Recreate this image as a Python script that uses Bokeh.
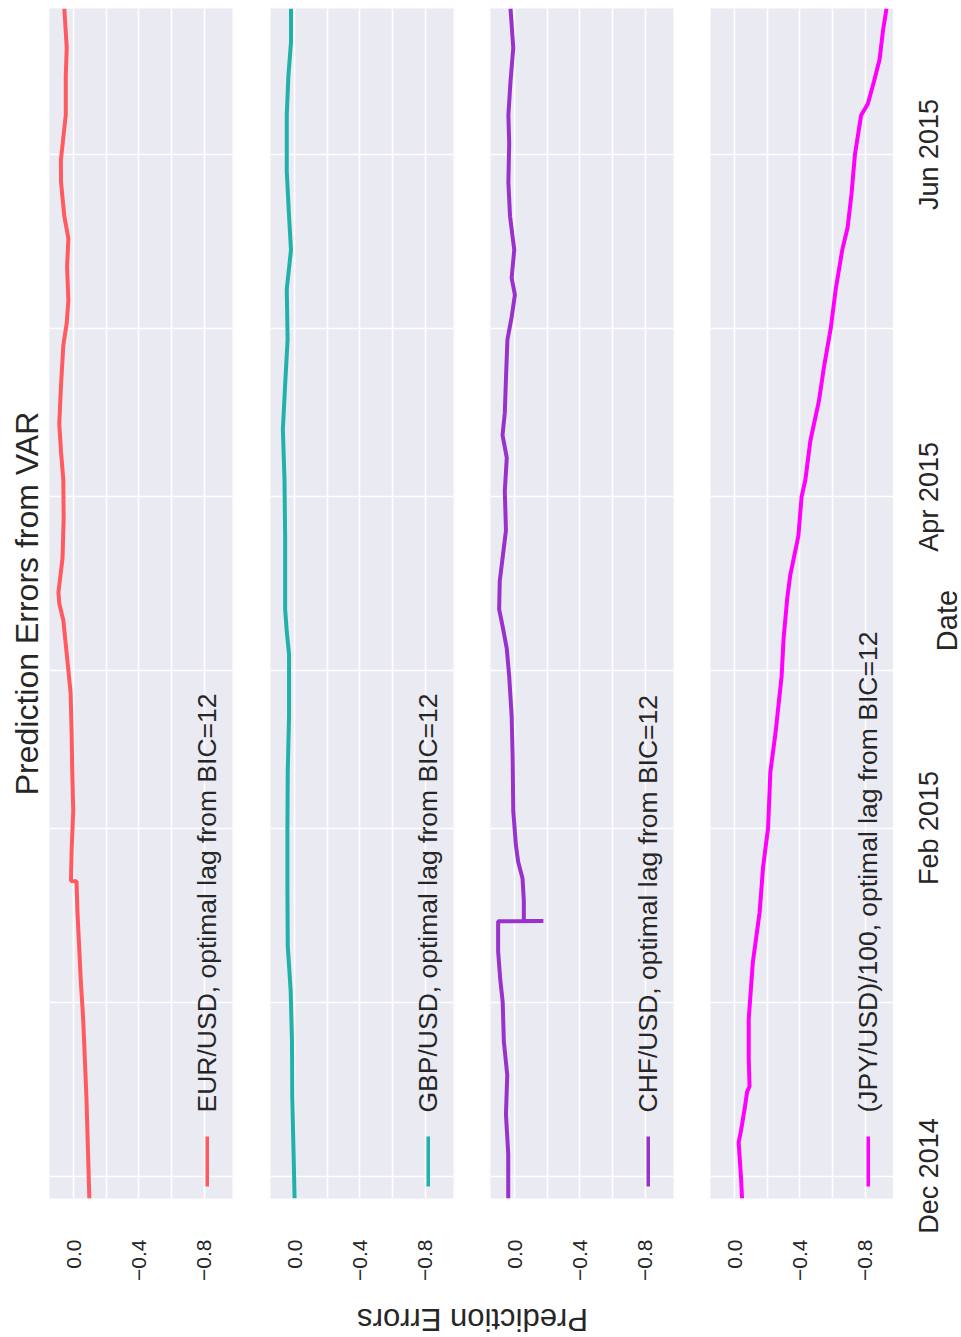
import math
import pandas as pd
from bokeh.plotting import figure
from bokeh.layouts import column, row
from bokeh.models import Range1d, FixedTicker, Title, Label, BoxAnnotation
from bokeh.embed import file_html
from bokeh.resources import INLINE

# ---------------- data ----------------
eur_dates = ["2014-11-27", "2014-12-05", "2014-12-15", "2014-12-22", "2014-12-29", "2015-01-05",
             "2015-01-11", "2015-01-17", "2015-01-22 12:00", "2015-01-22 14:00", "2015-01-28",
             "2015-02-04", "2015-02-11", "2015-02-18", "2015-02-25", "2015-03-04", "2015-03-10",
             "2015-03-13", "2015-03-15", "2015-03-21", "2015-03-28", "2015-04-04", "2015-04-09",
             "2015-04-14", "2015-04-21", "2015-04-28", "2015-05-02", "2015-05-06", "2015-05-12",
             "2015-05-17", "2015-05-21", "2015-05-27", "2015-05-31", "2015-06-04", "2015-06-08",
             "2015-06-15", "2015-06-20", "2015-06-27"]
eur_values = [-0.095, -0.087, -0.077, -0.067, -0.057, -0.042,
              -0.032, -0.022, -0.016, 0.018, 0.014,
              0.004, 0.010, 0.014, 0.020, 0.044, 0.065,
              0.090, 0.095, 0.070, 0.063, 0.065, 0.079,
              0.090, 0.079, 0.065, 0.044, 0.034, 0.042,
              0.034, 0.059, 0.079, 0.080, 0.065, 0.050,
              0.050, 0.044, 0.059]

gbp_dates = ["2014-11-27", "2014-12-05", "2014-12-15", "2014-12-25", "2015-01-03", "2015-01-11",
             "2015-01-21", "2015-02-01", "2015-02-11", "2015-02-21", "2015-03-04", "2015-03-08",
             "2015-03-12", "2015-03-18", "2015-03-25", "2015-04-04", "2015-04-13", "2015-04-21",
             "2015-04-29", "2015-05-08", "2015-05-15", "2015-05-21", "2015-05-29", "2015-06-08",
             "2015-06-15", "2015-06-21", "2015-06-27"]
gbp_values = [0.002, 0.008, 0.016, 0.018, 0.026, 0.044,
              0.046, 0.046, 0.044, 0.036, 0.036, 0.050,
              0.060, 0.060, 0.060, 0.064, 0.074, 0.060,
              0.045, 0.050, 0.024, 0.036, 0.050, 0.050,
              0.040, 0.024, 0.024]

chf_dates = ["2014-11-27", "2014-12-05", "2014-12-12", "2014-12-19", "2014-12-25", "2015-01-01",
             "2015-01-05", "2015-01-10", "2015-01-15 09:00", "2015-01-15 10:00", "2015-01-15 11:00",
             "2015-01-19", "2015-01-23", "2015-01-26", "2015-01-29", "2015-02-04", "2015-02-14",
             "2015-02-21", "2015-02-28", "2015-03-05", "2015-03-09", "2015-03-12", "2015-03-17",
             "2015-03-22", "2015-03-26", "2015-04-02", "2015-04-08", "2015-04-12", "2015-04-16",
             "2015-04-22", "2015-04-29", "2015-05-03", "2015-05-07", "2015-05-10", "2015-05-15",
             "2015-05-21", "2015-05-27", "2015-06-03", "2015-06-08", "2015-06-14", "2015-06-20",
             "2015-06-27"]
chf_values = [0.041, 0.041, 0.055, 0.047, 0.068, 0.075,
              0.090, 0.103, 0.103, -0.175, -0.055,
              -0.055, -0.047, -0.020, -0.006, 0.010, 0.014,
              0.020, 0.035, 0.050, 0.076, 0.097, 0.093,
              0.072, 0.055, 0.062, 0.050, 0.076, 0.062,
              0.055, 0.046, 0.020, 0.000, 0.020, 0.004,
              0.030, 0.040, 0.035, 0.040, 0.027, 0.010,
              0.027]

jpy_dates = ["2014-11-27", "2014-12-01", "2014-12-07", "2014-12-09", "2014-12-13", "2014-12-16",
             "2014-12-17", "2014-12-22", "2014-12-29", "2015-01-08", "2015-01-17", "2015-01-25",
             "2015-02-01", "2015-02-11", "2015-02-18", "2015-02-28", "2015-03-07", "2015-03-14",
             "2015-03-18", "2015-03-25", "2015-04-01", "2015-04-04", "2015-04-11", "2015-04-18",
             "2015-04-24", "2015-05-01", "2015-05-08", "2015-05-15", "2015-05-19", "2015-05-25",
             "2015-06-01", "2015-06-08", "2015-06-10", "2015-06-14", "2015-06-18", "2015-06-23",
             "2015-06-27"]
jpy_values = [-0.044, -0.037, -0.023, -0.037, -0.060, -0.075,
              -0.090, -0.085, -0.085, -0.110, -0.152, -0.173,
              -0.204, -0.218, -0.250, -0.287, -0.300, -0.322,
              -0.340, -0.390, -0.410, -0.433, -0.464, -0.516,
              -0.547, -0.589, -0.620, -0.660, -0.693, -0.717,
              -0.738, -0.776, -0.817, -0.855, -0.890, -0.910,
              -0.932]

series_names = ["EUR/USD, optimal lag from BIC=12",
                "GBP/USD, optimal lag from BIC=12",
                "CHF/USD, optimal lag from BIC=12",
                "(JPY/USD)/100, optimal lag from BIC=12"]
series_colors = ["#FF5A5F", "#20B2AA", "#9932CC", "#FF00FF"]

value_ticks = [0.0, -0.2, -0.4, -0.6, -0.8]
value_tick_labels = ["0.0", "", "\u22120.4", "", "\u22120.8"]
month_ticks = ["2014-12-01", "2015-01-01", "2015-02-01", "2015-03-01",
               "2015-04-01", "2015-05-01", "2015-06-01"]
month_tick_labels = ["Dec 2014", "", "Feb 2015", "", "Apr 2015", "", "Jun 2015"]

title_text = "Prediction Errors from VAR"
ylabel_text = "Prediction Errors"
xlabel_text = "Date"

# ---------------- styling / layout ----------------
FONT = "Liberation Sans"
TXT = "#262626"
BG = "#EAEAF2"

all_dates = [eur_dates, gbp_dates, chf_dates, jpy_dates]
all_values = [eur_values, gbp_values, chf_values, jpy_values]

start = pd.Timestamp("2014-11-27")
end = pd.Timestamp("2015-06-27")
month_ms = [int(pd.Timestamp(m).value // 10**6) for m in month_ticks]

FW = 183          # panel frame width (px)
FH = 1190         # panel frame height (px)
TOP = 8
BOTTOM = 92
LABEL_H = 47
STRIP_W = 68
borders = [(49, 19), (19, 18), (19, 18), (19, 0)]
shared_y = Range1d(start, end)
figs = []
for i in range(4):
    bl, br = borders[i]
    p = figure(width=bl + FW + br, height=TOP + FH + BOTTOM,
               x_range=Range1d(0.15, -0.975), y_range=shared_y,
               y_axis_type="datetime", y_axis_location=None,
               x_axis_location="below", title_location=None,
               output_backend="svg", toolbar_location=None,
               min_border_left=bl, min_border_right=br,
               min_border_top=TOP, min_border_bottom=BOTTOM,
               background_fill_color=BG, border_fill_color="white",
               outline_line_color=None)
    p.line(x=all_values[i], y=pd.to_datetime(all_dates[i], format="ISO8601"),
           line_color=series_colors[i], line_width=4)

    # value axis
    xa = p.xaxis[0]
    xa.ticker = FixedTicker(ticks=value_ticks)
    xa.major_label_overrides = dict(zip(value_ticks, value_tick_labels))
    xa.major_label_orientation = math.pi / 2
    xa.major_label_standoff = 35
    xa.major_label_text_font = FONT
    xa.major_label_text_font_size = "21px"
    xa.major_label_text_color = TXT
    xa.axis_line_color = None
    xa.major_tick_line_color = None
    xa.minor_tick_line_color = None

    p.xgrid.grid_line_color = "white"
    p.xgrid.grid_line_width = 1.6
    p.ygrid.ticker = FixedTicker(ticks=month_ms)
    p.ygrid.grid_line_color = "white"
    p.ygrid.grid_line_width = 1.6

    if i == 0:
        p.add_layout(Title(text=title_text, align="center", text_font=FONT,
                           text_font_size="32px", text_font_style="normal",
                           text_color=TXT), "left")

    # legend (rotated like the whole chart)
    p.add_layout(BoxAnnotation(left=156, right=159.5, bottom=12, top=62,
                               left_units="screen", right_units="screen",
                               bottom_units="screen", top_units="screen",
                               fill_color=series_colors[i], fill_alpha=1.0,
                               line_color=None))
    p.add_layout(Label(x=157.5, y=86, x_units="screen", y_units="screen",
                       text=series_names[i], angle=math.pi / 2,
                       text_align="left", text_baseline="middle",
                       text_font=FONT, text_font_size="26.5px", text_color=TXT))
    figs.append(p)

panels_w = sum(bl + FW + br for bl, br in borders)

# bottom strip with the (upside-down) value-axis title
pb = figure(width=panels_w, height=LABEL_H, x_range=Range1d(0, 1), y_range=Range1d(0, 1),
            x_axis_location=None, y_axis_location=None, title_location=None,
            output_backend="svg", toolbar_location=None, min_border=0,
            outline_line_color=None, background_fill_color="white",
            border_fill_color="white")
pb.grid.visible = False
pb.add_layout(Label(x=472 / panels_w, y=0.38, text=ylabel_text, angle=math.pi,
                    text_align="center", text_baseline="middle",
                    text_font=FONT, text_font_size="31px", text_color=TXT))

# full-height date-axis strip right of the panels: same date scale as the panels
total_h = TOP + FH + BOTTOM + LABEL_H
span = end - start
strip_range = Range1d(start - span * ((total_h - TOP - FH) / FH), end + span * (TOP / FH))
pd_ax = figure(width=STRIP_W, height=total_h, x_range=Range1d(0, 1), y_range=strip_range,
               x_axis_location=None, y_axis_location=None, title_location=None,
               output_backend="svg", toolbar_location=None, min_border=0,
               background_fill_color="white", border_fill_color="white",
               outline_line_color=None)
pd_ax.grid.visible = False
for ms, lab in zip(month_ms, month_tick_labels):
    if lab:
        pd_ax.add_layout(Label(x=35.5, x_units="screen", y=ms, y_units="data",
                               text=lab, angle=math.pi / 2,
                               text_align="center", text_baseline="middle",
                               text_font=FONT, text_font_size="27px", text_color=TXT))
pd_ax.add_layout(Label(x=53, y=total_h - 620, x_units="screen", y_units="screen",
                       text=xlabel_text, angle=math.pi / 2,
                       text_align="center", text_baseline="middle",
                       text_font=FONT, text_font_size="29px", text_color=TXT))

layout = row(column(row(*figs, spacing=0), pb, spacing=0), pd_ax, spacing=0)
open("out.html", "w").write(file_html(layout, INLINE))
